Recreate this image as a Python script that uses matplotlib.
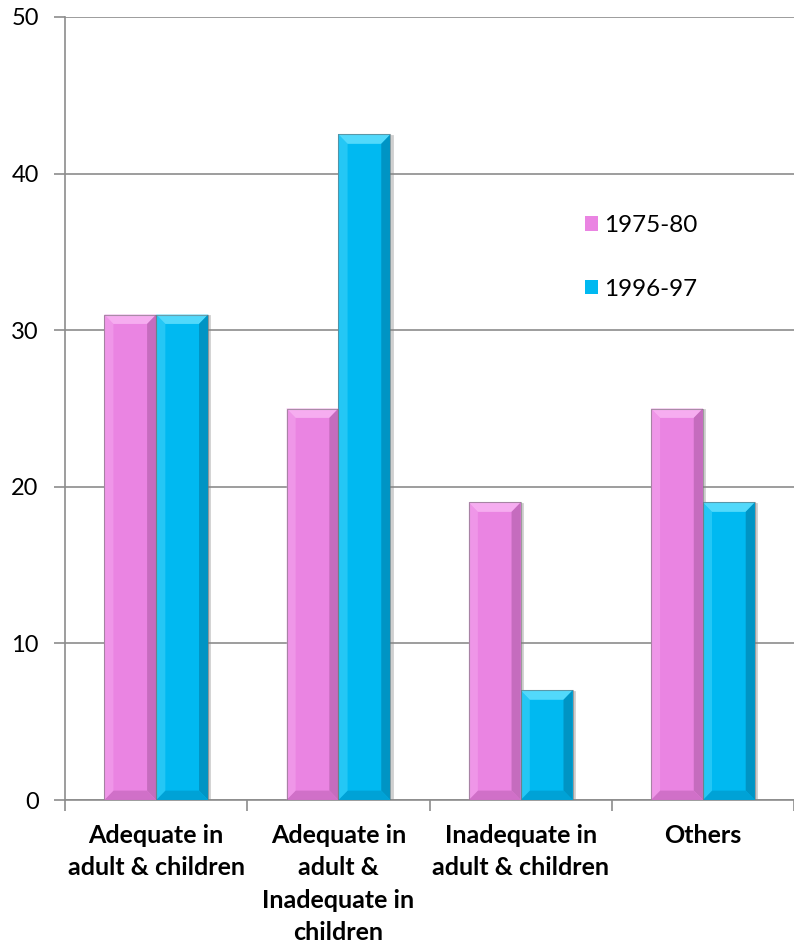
import numpy as np
import matplotlib
matplotlib.use('Agg')
import matplotlib.pyplot as plt
from matplotlib.patches import Polygon

plt.rcParams['font.family'] = ['Lato', 'DejaVu Sans']

# данные
categories = ['Adequate in\nadult & children',
              'Adequate in\nadult &\nInadequate in\nchildren',
              'Inadequate in\nadult & children',
              'Others']
series_names = ['1975-80', '1996-97']
values_7580 = [31, 25, 19, 25]
values_9697 = [31, 42.5, 7, 19]

colors = ['#EA84E2', '#00B9F1']
tops = ['#F6ADF0', '#52D9FB']
sides = ['#C56CBE', '#0094C4']
bottoms = ['#D070C8', '#00A2D6']


def bevel(ax, bar, top_c, side_c, bottom_c, bx=0.05, by=0.6):
    # рамка "фаска" по краям столбика
    x0, y0 = bar.get_x(), bar.get_y()
    w, h = bar.get_width(), bar.get_height()
    x1, y1 = x0 + w, y0 + h
    ax.add_patch(Polygon([(x0, y1), (x1, y1), (x1 - bx, y1 - by), (x0 + bx, y1 - by)],
                         closed=True, fc=top_c, ec='none', zorder=4))
    ax.add_patch(Polygon([(x1, y1), (x1, y0), (x1 - bx, y0 + by), (x1 - bx, y1 - by)],
                         closed=True, fc=side_c, ec='none', zorder=4))
    ax.add_patch(Polygon([(x0, y0), (x1, y0), (x1 - bx, y0 + by), (x0 + bx, y0 + by)],
                         closed=True, fc=bottom_c, ec='none', zorder=4))
    ax.add_patch(Polygon([(x0, y1), (x0, y0), (x0 + bx, y0 + by), (x0 + bx, y1 - by)],
                         closed=True, fc=top_c, ec='none', alpha=0.45, zorder=4))
    ax.add_patch(Polygon([(x0, y0), (x1, y0), (x1, y1), (x0, y1)], closed=True,
                         fc='none', ec='#777777', lw=0.8, alpha=0.6, zorder=5))
    ax.plot([x1 + 0.007, x1 + 0.007], [y0, y1 - 0.1], color='#888888', lw=2,
            alpha=0.4, zorder=2)


fig = plt.figure(figsize=(7.94, 9.44), dpi=100)
ax = fig.add_axes([0.082, 0.1525, 0.918, 0.8295])

x = np.arange(len(categories))
width = 0.285
bars1 = ax.bar(x - width / 2, values_7580, width, color=colors[0], label=series_names[0], zorder=3)
bars2 = ax.bar(x + width / 2, values_9697, width, color=colors[1], label=series_names[1], zorder=3)
for b in bars1:
    bevel(ax, b, tops[0], sides[0], bottoms[0])
for b in bars2:
    bevel(ax, b, tops[1], sides[1], bottoms[1])

ax.set_xlim(-0.5, 3.5)
ax.set_ylim(0, 50)
ax.set_yticks(np.arange(0, 51, 10))
ax.yaxis.grid(True, color='#8C8C8C', lw=1.2)
ax.set_axisbelow(True)

ax.set_xticks(x)
ax.set_xticklabels(categories, fontsize=18, fontweight='bold', linespacing=1.5, va='top')
ax.set_xticks(np.arange(-0.5, 3.6, 1.0), minor=True)
ax.tick_params(axis='x', which='major', length=0, pad=17)
ax.tick_params(axis='x', which='minor', length=8, color='#8C8C8C', width=1.2)
ax.tick_params(axis='y', length=8, color='#8C8C8C', width=1.2, labelsize=17, pad=11)

for s in ['top', 'right']:
    ax.spines[s].set_visible(False)
for s in ['left', 'bottom']:
    ax.spines[s].set_color('#8C8C8C')
    ax.spines[s].set_linewidth(1.2)

ax.legend(loc='upper left', bbox_to_anchor=(0.683, 0.775), frameon=False, fontsize=17.5,
          handlelength=0.55, handleheight=0.55, handletextpad=0.25, labelspacing=1.75)

plt.savefig('out.png', dpi=100)
